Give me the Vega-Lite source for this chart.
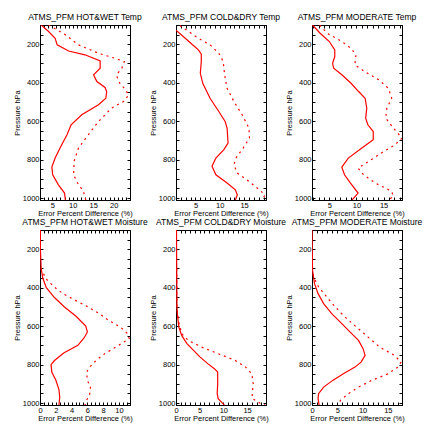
{
  "$schema": "https://vega.github.io/schema/vega-lite/v6.json",
  "padding": {"left": 12, "top": 12, "right": 2, "bottom": 2},
  "background": "white",
  "bounds": "flush",
  "config": {
    "font": "Liberation Sans",
    "view": {"stroke": "black", "strokeWidth": 1},
    "axis": {"labelFont": "Liberation Sans", "labelFontSize": 7.5, "titleFont": "Liberation Sans", "titleFontSize": 7.5, "titleFontWeight": "normal", "labelColor": "black", "titleColor": "black", "domainColor": "black", "tickColor": "black", "grid": false, "tickSize": -3, "labelPadding": 4, "titlePadding": 1},
    "title": {"font": "Liberation Sans", "fontSize": 8.5, "fontWeight": "normal", "offset": 3}
  },
  "datasets": {
    "d": [
      {"panel": "A", "kind": "solid", "p": 100, "v": 2.3},
      {"panel": "A", "kind": "solid", "p": 134, "v": 4.1},
      {"panel": "A", "kind": "solid", "p": 169, "v": 5.7},
      {"panel": "A", "kind": "solid", "p": 203, "v": 6.2},
      {"panel": "A", "kind": "solid", "p": 235, "v": 9.0},
      {"panel": "A", "kind": "solid", "p": 255, "v": 13.0},
      {"panel": "A", "kind": "solid", "p": 287, "v": 16.7},
      {"panel": "A", "kind": "solid", "p": 325, "v": 16.7},
      {"panel": "A", "kind": "solid", "p": 359, "v": 15.1},
      {"panel": "A", "kind": "solid", "p": 394, "v": 15.9},
      {"panel": "A", "kind": "solid", "p": 425, "v": 17.9},
      {"panel": "A", "kind": "solid", "p": 446, "v": 18.3},
      {"panel": "A", "kind": "solid", "p": 481, "v": 18.1},
      {"panel": "A", "kind": "solid", "p": 515, "v": 16.3},
      {"panel": "A", "kind": "solid", "p": 567, "v": 12.2},
      {"panel": "A", "kind": "solid", "p": 619, "v": 9.6},
      {"panel": "A", "kind": "solid", "p": 671, "v": 8.6},
      {"panel": "A", "kind": "solid", "p": 740, "v": 6.9},
      {"panel": "A", "kind": "solid", "p": 792, "v": 5.7},
      {"panel": "A", "kind": "solid", "p": 839, "v": 4.9},
      {"panel": "A", "kind": "solid", "p": 879, "v": 5.1},
      {"panel": "A", "kind": "solid", "p": 931, "v": 6.5},
      {"panel": "A", "kind": "solid", "p": 974, "v": 8.0},
      {"panel": "A", "kind": "solid", "p": 1010, "v": 8.2},
      {"panel": "A", "kind": "dashed", "p": 100, "v": 4.1},
      {"panel": "A", "kind": "dashed", "p": 151, "v": 8.2},
      {"panel": "A", "kind": "dashed", "p": 203, "v": 11.4},
      {"panel": "A", "kind": "dashed", "p": 247, "v": 16.3},
      {"panel": "A", "kind": "dashed", "p": 273, "v": 20.3},
      {"panel": "A", "kind": "dashed", "p": 290, "v": 22.6},
      {"panel": "A", "kind": "dashed", "p": 325, "v": 22.0},
      {"panel": "A", "kind": "dashed", "p": 359, "v": 20.7},
      {"panel": "A", "kind": "dashed", "p": 394, "v": 21.2},
      {"panel": "A", "kind": "dashed", "p": 429, "v": 22.6},
      {"panel": "A", "kind": "dashed", "p": 463, "v": 23.7},
      {"panel": "A", "kind": "dashed", "p": 498, "v": 22.4},
      {"panel": "A", "kind": "dashed", "p": 532, "v": 19.5},
      {"panel": "A", "kind": "dashed", "p": 602, "v": 16.3},
      {"panel": "A", "kind": "dashed", "p": 671, "v": 13.8},
      {"panel": "A", "kind": "dashed", "p": 740, "v": 11.4},
      {"panel": "A", "kind": "dashed", "p": 810, "v": 10.3},
      {"panel": "A", "kind": "dashed", "p": 844, "v": 10.3},
      {"panel": "A", "kind": "dashed", "p": 879, "v": 10.2},
      {"panel": "A", "kind": "dashed", "p": 922, "v": 11.2},
      {"panel": "A", "kind": "dashed", "p": 965, "v": 12.6},
      {"panel": "A", "kind": "dashed", "p": 1010, "v": 13.2},

      {"panel": "B", "kind": "solid", "p": 127, "v": 1.0},
      {"panel": "B", "kind": "solid", "p": 169, "v": 2.9},
      {"panel": "B", "kind": "solid", "p": 203, "v": 4.4},
      {"panel": "B", "kind": "solid", "p": 229, "v": 5.6},
      {"panel": "B", "kind": "solid", "p": 252, "v": 6.2},
      {"panel": "B", "kind": "solid", "p": 290, "v": 6.2},
      {"panel": "B", "kind": "solid", "p": 351, "v": 6.0},
      {"panel": "B", "kind": "solid", "p": 403, "v": 6.5},
      {"panel": "B", "kind": "solid", "p": 481, "v": 8.0},
      {"panel": "B", "kind": "solid", "p": 550, "v": 9.8},
      {"panel": "B", "kind": "solid", "p": 602, "v": 11.1},
      {"panel": "B", "kind": "solid", "p": 636, "v": 11.5},
      {"panel": "B", "kind": "solid", "p": 714, "v": 11.7},
      {"panel": "B", "kind": "solid", "p": 749, "v": 10.8},
      {"panel": "B", "kind": "solid", "p": 792, "v": 9.2},
      {"panel": "B", "kind": "solid", "p": 835, "v": 8.4},
      {"panel": "B", "kind": "solid", "p": 879, "v": 9.2},
      {"panel": "B", "kind": "solid", "p": 922, "v": 11.5},
      {"panel": "B", "kind": "solid", "p": 957, "v": 13.2},
      {"panel": "B", "kind": "solid", "p": 983, "v": 13.6},
      {"panel": "B", "kind": "solid", "p": 1010, "v": 13.2},
      {"panel": "B", "kind": "dashed", "p": 103, "v": 1.8},
      {"panel": "B", "kind": "dashed", "p": 134, "v": 3.6},
      {"panel": "B", "kind": "dashed", "p": 169, "v": 5.6},
      {"panel": "B", "kind": "dashed", "p": 203, "v": 8.0},
      {"panel": "B", "kind": "dashed", "p": 247, "v": 9.8},
      {"panel": "B", "kind": "dashed", "p": 290, "v": 10.7},
      {"panel": "B", "kind": "dashed", "p": 359, "v": 11.0},
      {"panel": "B", "kind": "dashed", "p": 429, "v": 11.5},
      {"panel": "B", "kind": "dashed", "p": 498, "v": 12.9},
      {"panel": "B", "kind": "dashed", "p": 567, "v": 14.6},
      {"panel": "B", "kind": "dashed", "p": 636, "v": 16.0},
      {"panel": "B", "kind": "dashed", "p": 688, "v": 16.1},
      {"panel": "B", "kind": "dashed", "p": 740, "v": 14.8},
      {"panel": "B", "kind": "dashed", "p": 792, "v": 13.3},
      {"panel": "B", "kind": "dashed", "p": 827, "v": 12.9},
      {"panel": "B", "kind": "dashed", "p": 870, "v": 13.6},
      {"panel": "B", "kind": "dashed", "p": 913, "v": 16.0},
      {"panel": "B", "kind": "dashed", "p": 948, "v": 17.7},
      {"panel": "B", "kind": "dashed", "p": 983, "v": 19.3},
      {"panel": "B", "kind": "dashed", "p": 1010, "v": 18.7},

      {"panel": "C", "kind": "solid", "p": 100, "v": 1.9},
      {"panel": "C", "kind": "solid", "p": 143, "v": 3.3},
      {"panel": "C", "kind": "solid", "p": 186, "v": 5.0},
      {"panel": "C", "kind": "solid", "p": 229, "v": 6.0},
      {"panel": "C", "kind": "solid", "p": 264, "v": 6.0},
      {"panel": "C", "kind": "solid", "p": 299, "v": 5.6},
      {"panel": "C", "kind": "solid", "p": 325, "v": 5.8},
      {"panel": "C", "kind": "solid", "p": 359, "v": 7.3},
      {"panel": "C", "kind": "solid", "p": 403, "v": 9.0},
      {"panel": "C", "kind": "solid", "p": 446, "v": 10.4},
      {"panel": "C", "kind": "solid", "p": 481, "v": 11.6},
      {"panel": "C", "kind": "solid", "p": 533, "v": 11.9},
      {"panel": "C", "kind": "solid", "p": 584, "v": 11.7},
      {"panel": "C", "kind": "solid", "p": 619, "v": 12.1},
      {"panel": "C", "kind": "solid", "p": 654, "v": 13.1},
      {"panel": "C", "kind": "solid", "p": 697, "v": 13.1},
      {"panel": "C", "kind": "solid", "p": 740, "v": 11.0},
      {"panel": "C", "kind": "solid", "p": 792, "v": 8.5},
      {"panel": "C", "kind": "solid", "p": 839, "v": 7.3},
      {"panel": "C", "kind": "solid", "p": 879, "v": 7.8},
      {"panel": "C", "kind": "solid", "p": 922, "v": 8.9},
      {"panel": "C", "kind": "solid", "p": 974, "v": 10.3},
      {"panel": "C", "kind": "solid", "p": 1010, "v": 9.2},
      {"panel": "C", "kind": "dashed", "p": 100, "v": 3.2},
      {"panel": "C", "kind": "dashed", "p": 143, "v": 4.6},
      {"panel": "C", "kind": "dashed", "p": 186, "v": 7.3},
      {"panel": "C", "kind": "dashed", "p": 221, "v": 9.0},
      {"panel": "C", "kind": "dashed", "p": 255, "v": 9.9},
      {"panel": "C", "kind": "dashed", "p": 307, "v": 9.7},
      {"panel": "C", "kind": "dashed", "p": 342, "v": 11.5},
      {"panel": "C", "kind": "dashed", "p": 385, "v": 14.1},
      {"panel": "C", "kind": "dashed", "p": 429, "v": 15.9},
      {"panel": "C", "kind": "dashed", "p": 481, "v": 16.5},
      {"panel": "C", "kind": "dashed", "p": 533, "v": 15.6},
      {"panel": "C", "kind": "dashed", "p": 584, "v": 15.4},
      {"panel": "C", "kind": "dashed", "p": 636, "v": 16.8},
      {"panel": "C", "kind": "dashed", "p": 688, "v": 18.4},
      {"panel": "C", "kind": "dashed", "p": 723, "v": 17.1},
      {"panel": "C", "kind": "dashed", "p": 758, "v": 15.0},
      {"panel": "C", "kind": "dashed", "p": 810, "v": 12.2},
      {"panel": "C", "kind": "dashed", "p": 844, "v": 10.3},
      {"panel": "C", "kind": "dashed", "p": 879, "v": 11.3},
      {"panel": "C", "kind": "dashed", "p": 922, "v": 13.5},
      {"panel": "C", "kind": "dashed", "p": 965, "v": 16.5},
      {"panel": "C", "kind": "dashed", "p": 991, "v": 16.8},
      {"panel": "C", "kind": "dashed", "p": 1010, "v": 15.9},

      {"panel": "D", "kind": "solid", "p": 100, "v": 0.05},
      {"panel": "D", "kind": "solid", "p": 200, "v": 0.05},
      {"panel": "D", "kind": "solid", "p": 300, "v": 0.15},
      {"panel": "D", "kind": "solid", "p": 350, "v": 0.35},
      {"panel": "D", "kind": "solid", "p": 400, "v": 0.8},
      {"panel": "D", "kind": "solid", "p": 450, "v": 1.8},
      {"panel": "D", "kind": "solid", "p": 500, "v": 3.1},
      {"panel": "D", "kind": "solid", "p": 550, "v": 4.6},
      {"panel": "D", "kind": "solid", "p": 600, "v": 5.8},
      {"panel": "D", "kind": "solid", "p": 630, "v": 6.0},
      {"panel": "D", "kind": "solid", "p": 660, "v": 5.6},
      {"panel": "D", "kind": "solid", "p": 700, "v": 4.8},
      {"panel": "D", "kind": "solid", "p": 740, "v": 3.0},
      {"panel": "D", "kind": "solid", "p": 780, "v": 1.8},
      {"panel": "D", "kind": "solid", "p": 800, "v": 1.4},
      {"panel": "D", "kind": "solid", "p": 840, "v": 1.5},
      {"panel": "D", "kind": "solid", "p": 880, "v": 2.0},
      {"panel": "D", "kind": "solid", "p": 930, "v": 2.4},
      {"panel": "D", "kind": "solid", "p": 970, "v": 2.5},
      {"panel": "D", "kind": "solid", "p": 1010, "v": 2.4},
      {"panel": "D", "kind": "dashed", "p": 300, "v": 0.1},
      {"panel": "D", "kind": "dashed", "p": 353, "v": 0.75},
      {"panel": "D", "kind": "dashed", "p": 396, "v": 1.8},
      {"panel": "D", "kind": "dashed", "p": 431, "v": 2.9},
      {"panel": "D", "kind": "dashed", "p": 466, "v": 4.5},
      {"panel": "D", "kind": "dashed", "p": 500, "v": 6.1},
      {"panel": "D", "kind": "dashed", "p": 535, "v": 7.5},
      {"panel": "D", "kind": "dashed", "p": 570, "v": 8.7},
      {"panel": "D", "kind": "dashed", "p": 605, "v": 10.2},
      {"panel": "D", "kind": "dashed", "p": 639, "v": 11.1},
      {"panel": "D", "kind": "dashed", "p": 665, "v": 11.3},
      {"panel": "D", "kind": "dashed", "p": 709, "v": 9.6},
      {"panel": "D", "kind": "dashed", "p": 743, "v": 8.2},
      {"panel": "D", "kind": "dashed", "p": 778, "v": 7.1},
      {"panel": "D", "kind": "dashed", "p": 813, "v": 6.3},
      {"panel": "D", "kind": "dashed", "p": 839, "v": 5.9},
      {"panel": "D", "kind": "dashed", "p": 882, "v": 6.0},
      {"panel": "D", "kind": "dashed", "p": 917, "v": 6.4},
      {"panel": "D", "kind": "dashed", "p": 952, "v": 6.3},
      {"panel": "D", "kind": "dashed", "p": 986, "v": 5.9},
      {"panel": "D", "kind": "dashed", "p": 1010, "v": 5.7},

      {"panel": "E", "kind": "solid", "p": 100, "v": 0.1},
      {"panel": "E", "kind": "solid", "p": 500, "v": 0.2},
      {"panel": "E", "kind": "solid", "p": 552, "v": 0.35},
      {"panel": "E", "kind": "solid", "p": 605, "v": 0.6},
      {"panel": "E", "kind": "solid", "p": 648, "v": 1.2},
      {"panel": "E", "kind": "solid", "p": 691, "v": 2.3},
      {"panel": "E", "kind": "solid", "p": 726, "v": 3.7},
      {"panel": "E", "kind": "solid", "p": 761, "v": 5.1},
      {"panel": "E", "kind": "solid", "p": 795, "v": 6.7},
      {"panel": "E", "kind": "solid", "p": 821, "v": 8.1},
      {"panel": "E", "kind": "solid", "p": 839, "v": 8.8},
      {"panel": "E", "kind": "solid", "p": 899, "v": 8.8},
      {"panel": "E", "kind": "solid", "p": 951, "v": 8.7},
      {"panel": "E", "kind": "solid", "p": 977, "v": 8.9},
      {"panel": "E", "kind": "solid", "p": 1000, "v": 9.8},
      {"panel": "E", "kind": "solid", "p": 1010, "v": 10.2},
      {"panel": "E", "kind": "dashed", "p": 300, "v": 0.15},
      {"panel": "E", "kind": "dashed", "p": 500, "v": 0.2},
      {"panel": "E", "kind": "dashed", "p": 570, "v": 0.5},
      {"panel": "E", "kind": "dashed", "p": 605, "v": 0.85},
      {"panel": "E", "kind": "dashed", "p": 639, "v": 1.2},
      {"panel": "E", "kind": "dashed", "p": 674, "v": 2.6},
      {"panel": "E", "kind": "dashed", "p": 709, "v": 5.4},
      {"panel": "E", "kind": "dashed", "p": 743, "v": 8.9},
      {"panel": "E", "kind": "dashed", "p": 778, "v": 12.5},
      {"panel": "E", "kind": "dashed", "p": 813, "v": 14.7},
      {"panel": "E", "kind": "dashed", "p": 848, "v": 16.0},
      {"panel": "E", "kind": "dashed", "p": 899, "v": 16.3},
      {"panel": "E", "kind": "dashed", "p": 951, "v": 16.1},
      {"panel": "E", "kind": "dashed", "p": 977, "v": 16.1},
      {"panel": "E", "kind": "dashed", "p": 1000, "v": 17.7},
      {"panel": "E", "kind": "dashed", "p": 1010, "v": 18.8},

      {"panel": "F", "kind": "solid", "p": 100, "v": 0.0},
      {"panel": "F", "kind": "solid", "p": 309, "v": 0.1},
      {"panel": "F", "kind": "solid", "p": 379, "v": 0.5},
      {"panel": "F", "kind": "solid", "p": 431, "v": 1.2},
      {"panel": "F", "kind": "solid", "p": 483, "v": 2.3},
      {"panel": "F", "kind": "solid", "p": 535, "v": 3.9},
      {"panel": "F", "kind": "solid", "p": 587, "v": 5.9},
      {"panel": "F", "kind": "solid", "p": 630, "v": 7.5},
      {"panel": "F", "kind": "solid", "p": 674, "v": 9.2},
      {"panel": "F", "kind": "solid", "p": 717, "v": 10.1},
      {"panel": "F", "kind": "solid", "p": 752, "v": 10.5},
      {"panel": "F", "kind": "solid", "p": 787, "v": 9.7},
      {"panel": "F", "kind": "solid", "p": 813, "v": 8.5},
      {"panel": "F", "kind": "solid", "p": 848, "v": 6.2},
      {"panel": "F", "kind": "solid", "p": 882, "v": 4.1},
      {"panel": "F", "kind": "solid", "p": 917, "v": 2.3},
      {"panel": "F", "kind": "solid", "p": 951, "v": 1.3},
      {"panel": "F", "kind": "solid", "p": 977, "v": 1.2},
      {"panel": "F", "kind": "solid", "p": 1010, "v": 1.4},
      {"panel": "F", "kind": "dashed", "p": 300, "v": 0.05},
      {"panel": "F", "kind": "dashed", "p": 344, "v": 0.3},
      {"panel": "F", "kind": "dashed", "p": 396, "v": 1.3},
      {"panel": "F", "kind": "dashed", "p": 448, "v": 2.9},
      {"panel": "F", "kind": "dashed", "p": 500, "v": 4.6},
      {"panel": "F", "kind": "dashed", "p": 552, "v": 6.5},
      {"panel": "F", "kind": "dashed", "p": 605, "v": 8.8},
      {"panel": "F", "kind": "dashed", "p": 657, "v": 11.1},
      {"panel": "F", "kind": "dashed", "p": 709, "v": 13.4},
      {"panel": "F", "kind": "dashed", "p": 752, "v": 16.3},
      {"panel": "F", "kind": "dashed", "p": 787, "v": 17.6},
      {"panel": "F", "kind": "dashed", "p": 813, "v": 17.0},
      {"panel": "F", "kind": "dashed", "p": 848, "v": 15.0},
      {"panel": "F", "kind": "dashed", "p": 882, "v": 11.8},
      {"panel": "F", "kind": "dashed", "p": 917, "v": 9.2},
      {"panel": "F", "kind": "dashed", "p": 951, "v": 7.2},
      {"panel": "F", "kind": "dashed", "p": 986, "v": 5.6},
      {"panel": "F", "kind": "dashed", "p": 1010, "v": 5.4}
    ]
  },
  "data": {"name": "d"},
  "columns": 3,
  "spacing": {"column": 46, "row": 30},
  "concat": [
    {
      "title": "ATMS_PFM HOT&WET Temp",
      "width": 90, "height": 175,
      "transform": [{"filter": "datum.panel == 'A'"}],
      "layer": [
        {"mark": {"type": "line", "color": "#ff0000", "strokeWidth": 1.2, "clip": true},
         "transform": [{"filter": "datum.kind == 'solid'"}],
         "encoding": {
           "x": {"field": "v", "type": "quantitative", "scale": {"domain": [2, 24], "nice": false, "zero": false}, "axis": {"title": "Error Percent Difference (%)", "values": [2,3,4,5,6,7,8,9,10,11,12,13,14,15,16,17,18,19,20,21,22,23,24], "labelExpr": "datum.value % 5 == 0 ? datum.value : ''", "labelFlush": false}},
           "y": {"field": "p", "type": "quantitative", "scale": {"domain": [100, 1010], "reverse": true, "nice": false, "zero": false}, "axis": {"title": "Pressure hPa", "values": [100,150,200,250,300,350,400,450,500,550,600,650,700,750,800,850,900,950,1000], "labelExpr": "datum.value % 200 == 0 ? datum.value : ''", "labelFlush": false}},
           "order": {"field": "p", "type": "quantitative"}
         }},
        {"mark": {"type": "line", "color": "#ff0000", "strokeWidth": 1.2, "strokeDash": [2, 4], "clip": true},
         "transform": [{"filter": "datum.kind == 'dashed'"}],
         "encoding": {
           "x": {"field": "v", "type": "quantitative", "axis": {"orient": "top", "title": null, "labels": false, "minExtent": 0, "maxExtent": 0, "values": [2,3,4,5,6,7,8,9,10,11,12,13,14,15,16,17,18,19,20,21,22,23,24]}},
           "y": {"field": "p", "type": "quantitative", "axis": {"orient": "right", "title": null, "labels": false, "minExtent": 0, "maxExtent": 0, "values": [100,150,200,250,300,350,400,450,500,550,600,650,700,750,800,850,900,950,1000]}},
           "order": {"field": "p", "type": "quantitative"}
         }}
      ],
      "resolve": {"axis": {"x": "independent", "y": "independent"}}
    },
    {
      "title": "ATMS_PFM COLD&DRY Temp",
      "width": 90, "height": 175,
      "transform": [{"filter": "datum.panel == 'B'"}],
      "layer": [
        {"mark": {"type": "line", "color": "#ff0000", "strokeWidth": 1.2, "clip": true},
         "transform": [{"filter": "datum.kind == 'solid'"}],
         "encoding": {
           "x": {"field": "v", "type": "quantitative", "scale": {"domain": [1, 19.5], "nice": false, "zero": false}, "axis": {"title": "Error Percent Difference (%)", "values": [1,2,3,4,5,6,7,8,9,10,11,12,13,14,15,16,17,18,19], "labelExpr": "datum.value % 5 == 0 ? datum.value : ''", "labelFlush": false}},
           "y": {"field": "p", "type": "quantitative", "scale": {"domain": [100, 1010], "reverse": true, "nice": false, "zero": false}, "axis": {"title": "Pressure hPa", "values": [100,150,200,250,300,350,400,450,500,550,600,650,700,750,800,850,900,950,1000], "labelExpr": "datum.value % 200 == 0 ? datum.value : ''", "labelFlush": false}},
           "order": {"field": "p", "type": "quantitative"}
         }},
        {"mark": {"type": "line", "color": "#ff0000", "strokeWidth": 1.2, "strokeDash": [2, 4], "clip": true},
         "transform": [{"filter": "datum.kind == 'dashed'"}],
         "encoding": {
           "x": {"field": "v", "type": "quantitative", "axis": {"orient": "top", "title": null, "labels": false, "minExtent": 0, "maxExtent": 0, "values": [1,2,3,4,5,6,7,8,9,10,11,12,13,14,15,16,17,18,19]}},
           "y": {"field": "p", "type": "quantitative", "axis": {"orient": "right", "title": null, "labels": false, "minExtent": 0, "maxExtent": 0, "values": [100,150,200,250,300,350,400,450,500,550,600,650,700,750,800,850,900,950,1000]}},
           "order": {"field": "p", "type": "quantitative"}
         }}
      ],
      "resolve": {"axis": {"x": "independent", "y": "independent"}}
    },
    {
      "title": "ATMS_PFM MODERATE Temp",
      "width": 90, "height": 175,
      "transform": [{"filter": "datum.panel == 'C'"}],
      "layer": [
        {"mark": {"type": "line", "color": "#ff0000", "strokeWidth": 1.2, "clip": true},
         "transform": [{"filter": "datum.kind == 'solid'"}],
         "encoding": {
           "x": {"field": "v", "type": "quantitative", "scale": {"domain": [1.8, 18.4], "nice": false, "zero": false}, "axis": {"title": "Error Percent Difference (%)", "values": [2,3,4,5,6,7,8,9,10,11,12,13,14,15,16,17,18], "labelExpr": "datum.value % 5 == 0 ? datum.value : ''", "labelFlush": false}},
           "y": {"field": "p", "type": "quantitative", "scale": {"domain": [100, 1010], "reverse": true, "nice": false, "zero": false}, "axis": {"title": "Pressure hPa", "values": [100,150,200,250,300,350,400,450,500,550,600,650,700,750,800,850,900,950,1000], "labelExpr": "datum.value % 200 == 0 ? datum.value : ''", "labelFlush": false}},
           "order": {"field": "p", "type": "quantitative"}
         }},
        {"mark": {"type": "line", "color": "#ff0000", "strokeWidth": 1.2, "strokeDash": [2, 4], "clip": true},
         "transform": [{"filter": "datum.kind == 'dashed'"}],
         "encoding": {
           "x": {"field": "v", "type": "quantitative", "axis": {"orient": "top", "title": null, "labels": false, "minExtent": 0, "maxExtent": 0, "values": [2,3,4,5,6,7,8,9,10,11,12,13,14,15,16,17,18]}},
           "y": {"field": "p", "type": "quantitative", "axis": {"orient": "right", "title": null, "labels": false, "minExtent": 0, "maxExtent": 0, "values": [100,150,200,250,300,350,400,450,500,550,600,650,700,750,800,850,900,950,1000]}},
           "order": {"field": "p", "type": "quantitative"}
         }}
      ],
      "resolve": {"axis": {"x": "independent", "y": "independent"}}
    },
    {
      "title": "ATMS_PFM HOT&WET Moisture",
      "width": 90, "height": 175,
      "transform": [{"filter": "datum.panel == 'D'"}],
      "layer": [
        {"mark": {"type": "line", "color": "#ff0000", "strokeWidth": 1.2, "clip": true},
         "transform": [{"filter": "datum.kind == 'solid'"}],
         "encoding": {
           "x": {"field": "v", "type": "quantitative", "scale": {"domain": [0, 11.4], "nice": false, "zero": false}, "axis": {"title": "Error Percent Difference (%)", "values": [0,0.5,1,1.5,2,2.5,3,3.5,4,4.5,5,5.5,6,6.5,7,7.5,8,8.5,9,9.5,10,10.5,11], "labelExpr": "datum.value % 2 == 0 ? datum.value : ''", "labelFlush": false}},
           "y": {"field": "p", "type": "quantitative", "scale": {"domain": [100, 1010], "reverse": true, "nice": false, "zero": false}, "axis": {"title": "Pressure hPa", "values": [100,150,200,250,300,350,400,450,500,550,600,650,700,750,800,850,900,950,1000], "labelExpr": "datum.value % 200 == 0 ? datum.value : ''", "labelFlush": false}},
           "order": {"field": "p", "type": "quantitative"}
         }},
        {"mark": {"type": "line", "color": "#ff0000", "strokeWidth": 1.2, "strokeDash": [2, 4], "clip": true},
         "transform": [{"filter": "datum.kind == 'dashed'"}],
         "encoding": {
           "x": {"field": "v", "type": "quantitative", "axis": {"orient": "top", "title": null, "labels": false, "minExtent": 0, "maxExtent": 0, "values": [0,0.5,1,1.5,2,2.5,3,3.5,4,4.5,5,5.5,6,6.5,7,7.5,8,8.5,9,9.5,10,10.5,11]}},
           "y": {"field": "p", "type": "quantitative", "axis": {"orient": "right", "title": null, "labels": false, "minExtent": 0, "maxExtent": 0, "values": [100,150,200,250,300,350,400,450,500,550,600,650,700,750,800,850,900,950,1000]}},
           "order": {"field": "p", "type": "quantitative"}
         }}
      ],
      "resolve": {"axis": {"x": "independent", "y": "independent"}}
    },
    {
      "title": "ATMS_PFM COLD&DRY Moisture",
      "width": 90, "height": 175,
      "transform": [{"filter": "datum.panel == 'E'"}],
      "layer": [
        {"mark": {"type": "line", "color": "#ff0000", "strokeWidth": 1.2, "clip": true},
         "transform": [{"filter": "datum.kind == 'solid'"}],
         "encoding": {
           "x": {"field": "v", "type": "quantitative", "scale": {"domain": [0, 19], "nice": false, "zero": false}, "axis": {"title": "Error Percent Difference (%)", "values": [0,1,2,3,4,5,6,7,8,9,10,11,12,13,14,15,16,17,18,19], "labelExpr": "datum.value % 5 == 0 ? datum.value : ''", "labelFlush": false}},
           "y": {"field": "p", "type": "quantitative", "scale": {"domain": [100, 1010], "reverse": true, "nice": false, "zero": false}, "axis": {"title": "Pressure hPa", "values": [100,150,200,250,300,350,400,450,500,550,600,650,700,750,800,850,900,950,1000], "labelExpr": "datum.value % 200 == 0 ? datum.value : ''", "labelFlush": false}},
           "order": {"field": "p", "type": "quantitative"}
         }},
        {"mark": {"type": "line", "color": "#ff0000", "strokeWidth": 1.2, "strokeDash": [2, 4], "clip": true},
         "transform": [{"filter": "datum.kind == 'dashed'"}],
         "encoding": {
           "x": {"field": "v", "type": "quantitative", "axis": {"orient": "top", "title": null, "labels": false, "minExtent": 0, "maxExtent": 0, "values": [0,1,2,3,4,5,6,7,8,9,10,11,12,13,14,15,16,17,18,19]}},
           "y": {"field": "p", "type": "quantitative", "axis": {"orient": "right", "title": null, "labels": false, "minExtent": 0, "maxExtent": 0, "values": [100,150,200,250,300,350,400,450,500,550,600,650,700,750,800,850,900,950,1000]}},
           "order": {"field": "p", "type": "quantitative"}
         }}
      ],
      "resolve": {"axis": {"x": "independent", "y": "independent"}}
    },
    {
      "title": "ATMS_PFM MODERATE Moisture",
      "width": 90, "height": 175,
      "transform": [{"filter": "datum.panel == 'F'"}],
      "layer": [
        {"mark": {"type": "line", "color": "#ff0000", "strokeWidth": 1.2, "clip": true},
         "transform": [{"filter": "datum.kind == 'solid'"}],
         "encoding": {
           "x": {"field": "v", "type": "quantitative", "scale": {"domain": [0, 17.8], "nice": false, "zero": false}, "axis": {"title": "Error Percent Difference (%)", "values": [0,1,2,3,4,5,6,7,8,9,10,11,12,13,14,15,16,17], "labelExpr": "datum.value % 5 == 0 ? datum.value : ''", "labelFlush": false}},
           "y": {"field": "p", "type": "quantitative", "scale": {"domain": [100, 1010], "reverse": true, "nice": false, "zero": false}, "axis": {"title": "Pressure hPa", "values": [100,150,200,250,300,350,400,450,500,550,600,650,700,750,800,850,900,950,1000], "labelExpr": "datum.value % 200 == 0 ? datum.value : ''", "labelFlush": false}},
           "order": {"field": "p", "type": "quantitative"}
         }},
        {"mark": {"type": "line", "color": "#ff0000", "strokeWidth": 1.2, "strokeDash": [2, 4], "clip": true},
         "transform": [{"filter": "datum.kind == 'dashed'"}],
         "encoding": {
           "x": {"field": "v", "type": "quantitative", "axis": {"orient": "top", "title": null, "labels": false, "minExtent": 0, "maxExtent": 0, "values": [0,1,2,3,4,5,6,7,8,9,10,11,12,13,14,15,16,17]}},
           "y": {"field": "p", "type": "quantitative", "axis": {"orient": "right", "title": null, "labels": false, "minExtent": 0, "maxExtent": 0, "values": [100,150,200,250,300,350,400,450,500,550,600,650,700,750,800,850,900,950,1000]}},
           "order": {"field": "p", "type": "quantitative"}
         }}
      ],
      "resolve": {"axis": {"x": "independent", "y": "independent"}}
    }
  ]
}
